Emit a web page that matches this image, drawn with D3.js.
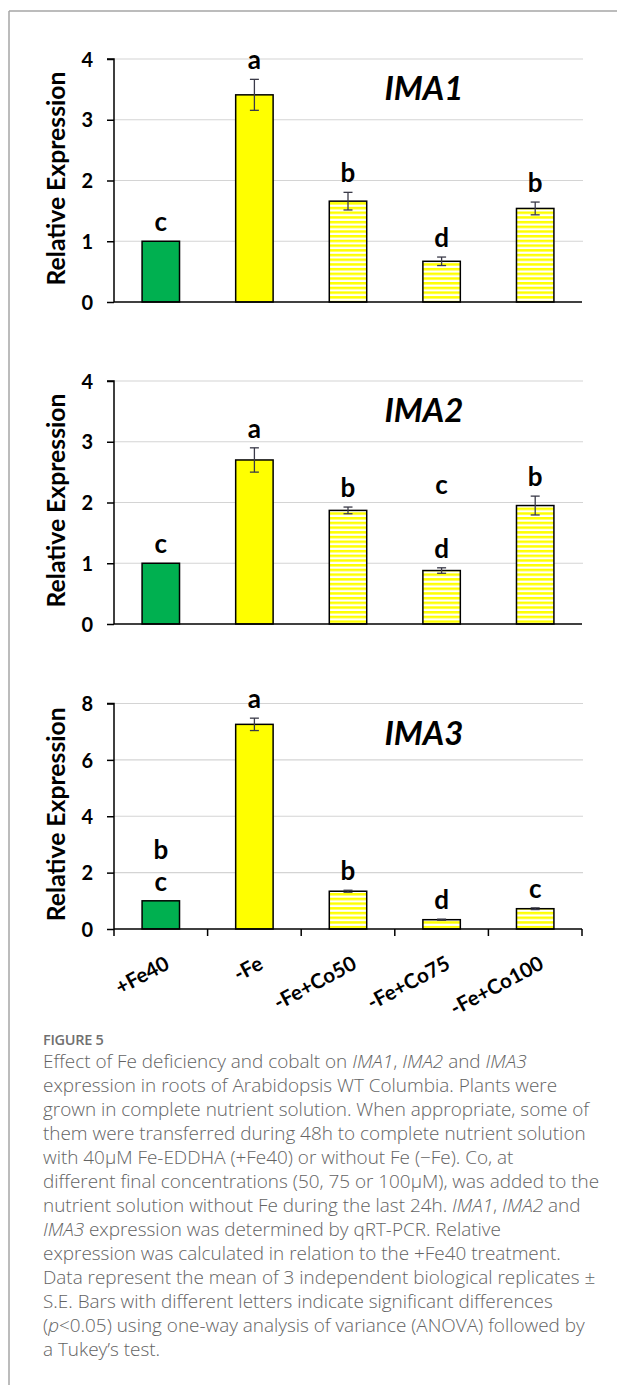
<!DOCTYPE html>
<html>
<head>
<meta charset="utf-8">
<script src="https://cdn.jsdelivr.net/npm/d3@7"></script>
<style>
  html, body { margin: 0; padding: 0; background: #fff; }
  svg { display: block; }
</style>
</head>
<body>
<svg id="chart" width="617" height="1385"></svg>
<script>
// ---------------- data ----------------
const categories = ["+Fe40", "-Fe", "-Fe+Co50", "-Fe+Co75", "-Fe+Co100"];

const ima1Values = [1.00, 3.41, 1.66, 0.67, 1.54];
const ima1Errors = [0.00, 0.255, 0.145, 0.07, 0.105];
const ima1Letters = [["c"], ["a"], ["b"], ["d"], ["b"]];

const ima2Values = [1.00, 2.70, 1.87, 0.88, 1.95];
const ima2Errors = [0.00, 0.20, 0.055, 0.045, 0.155];
const ima2Letters = [["c"], ["a"], ["b"], ["c", "", "d"], ["b"]];

const ima3Values = [1.00, 7.26, 1.34, 0.33, 0.72];
const ima3Errors = [0.00, 0.22, 0.035, 0.02, 0.03];
const ima3Letters = [["b", "c"], ["a"], ["b"], ["d"], ["c"]];

const ticksIma12 = [0, 1, 2, 3, 4];
const ticksIma3 = [0, 2, 4, 6, 8];

const yTitle = "Relative Expression";
const figureLabel = "FIGURE 5";
const captionLines = [
  [["Effect of Fe deficiency and cobalt on ", 0], ["IMA1", 1], [", ", 0], ["IMA2", 1], [" and ", 0], ["IMA3", 1]],
  [["expression in roots of Arabidopsis WT Columbia. Plants were", 0]],
  [["grown in complete nutrient solution. When appropriate, some of", 0]],
  [["them were transferred during 48h to complete nutrient solution", 0]],
  [["with 40\u03bcM Fe-EDDHA (+Fe40) or without Fe (\u2212Fe). Co, at", 0]],
  [["different final concentrations (50, 75 or 100\u03bcM), was added to the", 0]],
  [["nutrient solution without Fe during the last 24h. ", 0], ["IMA1", 1], [", ", 0], ["IMA2", 1], [" and", 0]],
  [["IMA3", 1], [" expression was determined by qRT-PCR. Relative", 0]],
  [["expression was calculated in relation to the +Fe40 treatment.", 0]],
  [["Data represent the mean of 3 independent biological replicates \u00b1", 0]],
  [["S.E. Bars with different letters indicate significant differences", 0]],
  [["(", 0], ["p", 1], ["<0.05) using one-way analysis of variance (ANOVA) followed by", 0]],
  [["a Tukey\u2019s test.", 0]]
];

// ---------------- layout / styles ----------------
const FONT = "Lato, 'Open Sans', 'DejaVu Sans', sans-serif";
const svg = d3.select("#chart");
const GREEN = "#00b050", YELLOW = "#ffff00";
const LETTER_SIZE = 26, LETTER_GAP = 32;

function fitSize(sel, base, target) {
  const len = sel.node().getComputedTextLength();
  if (len > 0) sel.attr("font-size", base * target / len);
}

// frame
svg.append("line").attr("x1", 9).attr("x2", 617).attr("y1", 11).attr("y2", 11)
  .attr("stroke", "#a6a6a6").attr("stroke-width", 1.5);
svg.append("line").attr("x1", 9).attr("x2", 9).attr("y1", 11).attr("y2", 1385)
  .attr("stroke", "#a6a6a6").attr("stroke-width", 1.5);

// stripe pattern
const defs = svg.append("defs");
const pat = defs.append("pattern").attr("id", "stripes")
  .attr("patternUnits", "userSpaceOnUse").attr("width", 10).attr("height", 4.7);
pat.append("rect").attr("width", 10).attr("height", 4.7).attr("fill", "#fff");
pat.append("rect").attr("width", 10).attr("height", 2.5).attr("fill", YELLOW);

const x = d3.scaleBand().domain(categories).range([114, 582]).paddingInner(0.6).paddingOuter(0.3);

const panels = [
  { gene: "IMA1", values: ima1Values, errors: ima1Errors, letters: ima1Letters, ticks: ticksIma12, top: 59, bottom: 302, xTicks: false },
  { gene: "IMA2", values: ima2Values, errors: ima2Errors, letters: ima2Letters, ticks: ticksIma12, top: 381, bottom: 624, xTicks: false },
  { gene: "IMA3", values: ima3Values, errors: ima3Errors, letters: ima3Letters, ticks: ticksIma3, top: 703.5, bottom: 929, xTicks: true }
];

function fillFor(i) {
  if (i === 0) return GREEN;
  if (i === 1) return YELLOW;
  return "url(#stripes)";
}

panels.forEach(p => {
  const g = svg.append("g");
  const y = d3.scaleLinear().domain([0, d3.max(p.ticks)]).range([p.bottom, p.top]);

  // gridlines
  g.selectAll(".grid").data(p.ticks.filter(t => t > 0)).join("line")
    .attr("x1", 114).attr("x2", 583)
    .attr("y1", d => y(d)).attr("y2", d => y(d))
    .attr("stroke", "#d4d4d4").attr("stroke-width", 1.2);

  // y axis
  const yAxis = d3.axisLeft(y).tickValues(p.ticks).tickSize(7).tickPadding(14).tickFormat(d3.format("d"));
  const ya = g.append("g").attr("transform", "translate(114,0)").call(yAxis);
  ya.select(".domain").attr("stroke", "#000").attr("stroke-width", 1.5).attr("d", `M-7,${p.top}H0V${p.bottom}`);
  ya.selectAll(".tick line").attr("stroke", "#000").attr("stroke-width", 1.5);
  ya.selectAll(".tick text").attr("font-family", FONT).attr("font-weight", 700)
    .attr("font-size", 20).attr("fill", "#000").attr("dy", "0.36em");

  // bars
  g.selectAll(".bar").data(p.values).join("rect")
    .attr("x", (d, i) => x(categories[i]))
    .attr("width", x.bandwidth())
    .attr("y", d => y(d))
    .attr("height", d => y(0) - y(d))
    .attr("fill", (d, i) => fillFor(i))
    .attr("stroke", "#000").attr("stroke-width", 1.5);

  // error bars
  p.values.forEach((v, i) => {
    const e = p.errors[i];
    if (e <= 0) return;
    const cx = x(categories[i]) + x.bandwidth() / 2;
    const eg = g.append("g").attr("stroke", "#3a3a48").attr("stroke-width", 1.3);
    eg.append("line").attr("x1", cx).attr("x2", cx).attr("y1", y(v + e)).attr("y2", y(v - e));
    eg.append("line").attr("x1", cx - 4.5).attr("x2", cx + 4.5).attr("y1", y(v + e)).attr("y2", y(v + e));
    eg.append("line").attr("x1", cx - 4.5).attr("x2", cx + 4.5).attr("y1", y(v - e)).attr("y2", y(v - e));
  });

  // x axis line
  const xAxis = d3.axisBottom(x).tickSize(0).tickFormat("");
  const xa = g.append("g").attr("transform", `translate(0,${p.bottom})`).call(xAxis);
  xa.select(".domain").attr("stroke", "#000").attr("stroke-width", 1.5).attr("d", `M114,0H582`);
  if (p.xTicks) {
    const [r0, r1] = x.range();
    const tickXs = d3.range(categories.length + 1).map(k => r0 + k * (r1 - r0) / categories.length);
    xa.selectAll(".btick").data(tickXs).join("line")
      .attr("x1", d => d).attr("x2", d => d).attr("y1", 0).attr("y2", 7)
      .attr("stroke", "#000").attr("stroke-width", 1.5);
    // category labels
    const labs = g.selectAll(".xlab").data(categories).join("text")
      .attr("transform", d => `translate(${x(d) + x.bandwidth() / 2 + 3},${p.bottom + 26}) rotate(-28)`)
      .attr("text-anchor", "end")
      .attr("dy", "0.72em")
      .attr("font-family", FONT).attr("font-weight", 700).attr("font-size", 21)
      .attr("fill", "#000")
      .text(d => d);
    const last = labs.filter((d, i) => i === categories.length - 1);
    const len = last.node().getComputedTextLength();
    if (len > 0) labs.attr("font-size", 21 * 102 / len);
  }

  // significance letters
  p.letters.forEach((lines, i) => {
    const cx = x(categories[i]) + x.bandwidth() / 2;
    const topV = p.values[i] + p.errors[i];
    const base = y(topV) - 10;
    const n = lines.length;
    lines.forEach((s, k) => {
      if (!s) return;
      g.append("text").attr("x", cx).attr("y", base - (n - 1 - k) * LETTER_GAP)
        .attr("text-anchor", "middle")
        .attr("font-family", FONT).attr("font-weight", 700).attr("font-size", LETTER_SIZE)
        .attr("fill", "#000").text(s);
    });
  });

  // gene title
  const gt = g.append("text").attr("x", 424).attr("y", p.top + 41)
    .attr("text-anchor", "middle")
    .attr("font-family", FONT).attr("font-weight", 700).attr("font-style", "italic")
    .attr("font-size", 28).attr("fill", "#000").text(p.gene);
  fitSize(gt, 28, 79);

  // y title
  const yt = g.append("text")
    .attr("transform", `translate(56,${(p.top + p.bottom) / 2 - 2}) rotate(-90)`)
    .attr("text-anchor", "middle").attr("dy", "0.35em")
    .attr("font-family", FONT).attr("font-weight", 700).attr("font-size", 22)
    .attr("fill", "#000").text(yTitle);
  fitSize(yt, 22, 214);
});

// ---------------- caption ----------------
svg.append("text").attr("x", 43).attr("y", 1045)
  .attr("font-family", "'Open Sans', Lato, sans-serif").attr("font-weight", 600)
  .attr("font-size", 14.5).attr("fill", "#707070").attr("letter-spacing", -0.3)
  .text(figureLabel);

const cap = svg.append("g").attr("font-family", "'Open Sans', Lato, sans-serif")
  .attr("font-weight", 300).attr("fill", "#636363");
const capTexts = captionLines.map((segs, li) => {
  const t = cap.append("text").attr("x", 43).attr("y", 1068 + li * 24).attr("font-size", 17);
  segs.forEach(([s, it]) => {
    t.append("tspan").attr("font-style", it ? "italic" : "normal").text(s);
  });
  return t;
});
const w0 = capTexts[0].node().getComputedTextLength();
if (w0 > 0) {
  const fs = 17 * 484 / w0;
  capTexts.forEach(t => t.attr("font-size", fs));
}
</script>
</body>
</html>
